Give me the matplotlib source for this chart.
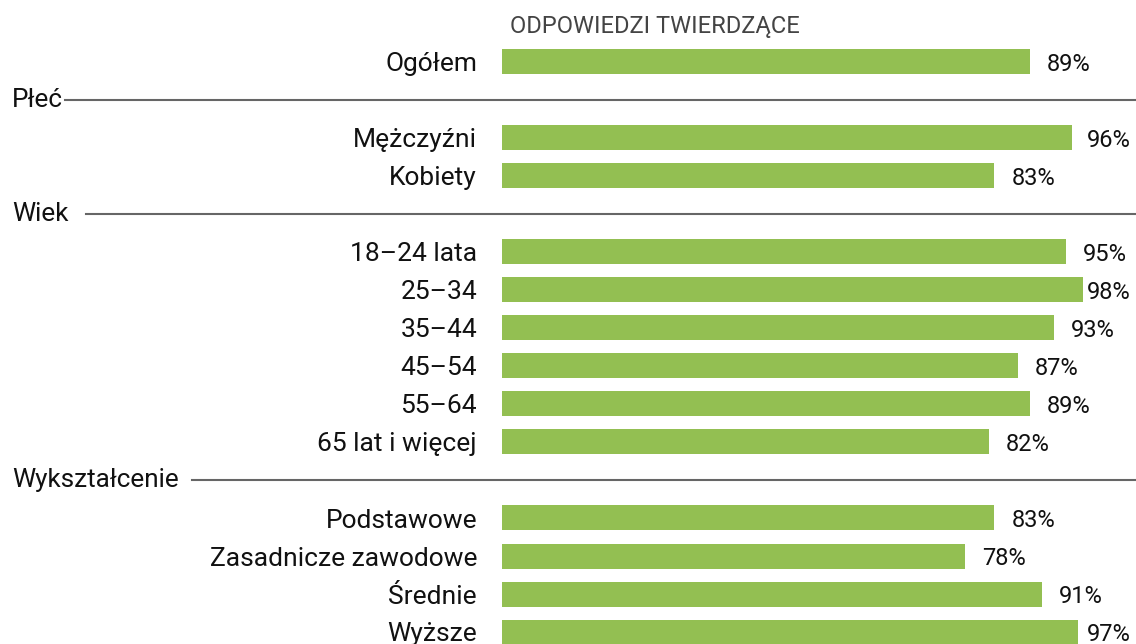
import matplotlib.pyplot as plt
import matplotlib.transforms as mtransforms

plt.rcParams['font.family'] = ['Roboto', 'DejaVu Sans']

# dane
labels = ["Ogółem", "Mężczyźni", "Kobiety", "18–24 lata", "25–34", "35–44", "45–54",
          "55–64", "65 lat i więcej", "Podstawowe", "Zasadnicze zawodowe", "Średnie", "Wyższe"]
values = [89, 96, 83, 95, 98, 93, 87, 89, 82, 83, 78, 91, 97]
slots = [0, 2, 3, 5, 6, 7, 8, 9, 10, 12, 13, 14, 15]   # wiersze (z przerwami na nagłówki)

sections = ["Płeć", "Wiek", "Wykształcenie"]
section_slots = [1, 4, 11]
section_line_start = [65, 86, 192]   # px, początek linii za napisem

header = "ODPOWIEDZI TWIERDZĄCE"
green = "#93bf52"

W, H = 1136, 644
fig = plt.figure(figsize=(W / 100, H / 100), dpi=100)
ax = fig.add_axes([502 / W, 0, (W - 502) / W, 1])

px_per_unit = 5.933
row = 38
ax.set_xlim(0, (W - 502) / px_per_unit)
ax.set_ylim((H - 62) / row, -62 / row)

ax.barh(slots, values, height=25 / row, color=green)

# etykiety wartości: 17 px za słupkiem, ale nie dalej niż do krawędzi
x_max = (1087 - 502) / px_per_unit
for s, v in zip(slots, values):
    xt = min(v + 17 / px_per_unit, x_max)
    ax.annotate(f"{v}%", (xt, s), xytext=(0, -2), textcoords="offset points",
                va="center", ha="left", fontsize=17, color="#111111",
                annotation_clip=False)

ax.set_yticks(slots)
ax.set_yticklabels(labels, fontsize=19, color="#111111")
ax.tick_params(axis="y", length=0, pad=18)
ax.set_xticks([])
for sp in ax.spines.values():
    sp.set_visible(False)

tr = mtransforms.blended_transform_factory(fig.transFigure, ax.transData)
for name, s, x0 in zip(sections, section_slots, section_line_start):
    fig.text(12 / W, s, name, transform=tr, va="center", ha="left",
             fontsize=18.8, color="#111111")
    ax.plot([x0 / W, 1], [s, s], transform=tr, color="#666666", lw=1.5,
            clip_on=False)

fig.text(510 / W, 1 - 27 / H, header, va="center", ha="left",
         fontsize=17, color="#444444")

fig.savefig("out.png", dpi=100)
